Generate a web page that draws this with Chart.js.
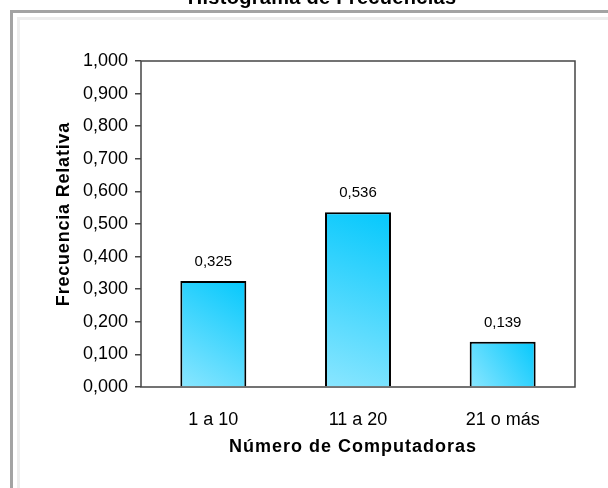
<!DOCTYPE html>
<html>
<head>
<meta charset="utf-8">
<script src="https://cdn.jsdelivr.net/npm/chart.js@4.4.0/dist/chart.umd.min.js"></script>
<style>
  html, body { margin: 0; padding: 0; background: #fff; overflow: hidden; }
  #wrap { position: relative; width: 608px; height: 488px; }
  .outer { position: absolute; left: 10px; top: 10px; width: 700px; height: 600px;
           border-left: 3px solid #a3a3a3; border-top: 3px solid #a3a3a3; }
  .inner { position: absolute; left: 17px; top: 17px; width: 700px; height: 600px;
           border-left: 3px solid #ededed; border-top: 3px solid #ededed; }
  canvas { position: absolute; left: 0; top: 0; }
</style>
</head>
<body>
<div id="wrap">
  <div class="outer"></div>
  <div class="inner"></div>
  <canvas id="chart" width="608" height="488"></canvas>
</div>
<script>
const chartTitle = "Histograma de Frecuencias";
const xTitle = "Número de Computadoras";
const yTitle = "Frecuencia Relativa";
const categories = ["1 a 10", "11 a 20", "21 o más"];
const relFreq = [0.325, 0.536, 0.139];
const yTicks = [0, 0.1, 0.2, 0.3, 0.4, 0.5, 0.6, 0.7, 0.8, 0.9, 1.0];

const FONT = "'Liberation Sans', Arial, sans-serif";
const BAR_PCT = 0.456;

const fmt = (v) => v.toFixed(3).replace(".", ",");

// each bar gets its own diagonal gradient, built from the scales
function barFill(c) {
  const chart = c.chart;
  if (!chart.chartArea || c.dataIndex === undefined) return "#33d0ff";
  const xs = chart.scales.x, ys = chart.scales.y;
  const cx = xs.getPixelForValue(c.dataIndex);
  const half = (xs.width / categories.length) * BAR_PCT / 2;
  const top = ys.getPixelForValue(relFreq[c.dataIndex]);
  const base = ys.getPixelForValue(0);
  const g = chart.ctx.createLinearGradient(cx - half, base, cx + half, top);
  g.addColorStop(0, "#8ae6ff");
  g.addColorStop(1, "#05c8fc");
  return g;
}

const decor = {
  id: "decor",
  beforeDatasetsDraw(chart) {
    const { ctx, chartArea: a } = chart;
    ctx.save();
    ctx.strokeStyle = "#454545";
    ctx.lineWidth = 1.5;
    ctx.strokeRect(a.left, a.top, a.right - a.left, a.bottom - a.top);
    ctx.restore();
  },
  afterDatasetsDraw(chart) {
    const ctx = chart.ctx;
    const meta = chart.getDatasetMeta(0);
    ctx.save();
    ctx.fillStyle = "#000";
    ctx.textAlign = "center";
    ctx.textBaseline = "middle";
    ctx.font = "15px " + FONT;
    meta.data.forEach((el, i) => {
      ctx.fillText(fmt(relFreq[i]), el.x, el.y - 19);
    });
    ctx.restore();
  },
  afterDraw(chart) {
    const ctx = chart.ctx;
    ctx.save();
    ctx.fillStyle = "#000";
    ctx.textAlign = "center";

    ctx.textBaseline = "alphabetic";
    ctx.font = "bold 20px " + FONT;
    ctx.letterSpacing = "0.3px";
    ctx.fillText(chartTitle, 322, 4);

    ctx.textBaseline = "middle";
    ctx.font = "bold 18px " + FONT;
    ctx.letterSpacing = "1px";
    ctx.fillText(xTitle, 353, 447);

    ctx.letterSpacing = "0.8px";
    ctx.translate(64, 214);
    ctx.rotate(-Math.PI / 2);
    ctx.fillText(yTitle, 0, 0);
    ctx.restore();
  }
};

new Chart(document.getElementById("chart"), {
  type: "bar",
  data: {
    labels: categories,
    datasets: [{
      label: yTitle,
      data: relFreq,
      backgroundColor: barFill,
      borderColor: "#000",
      borderWidth: 2,
      categoryPercentage: 1,
      barPercentage: BAR_PCT
    }]
  },
  options: {
    responsive: false,
    animation: false,
    devicePixelRatio: 1,
    layout: { padding: { top: 61, right: 33, left: 0, bottom: 0 } },
    plugins: {
      legend: { display: false },
      tooltip: { enabled: false }
    },
    scales: {
      x: {
        grid: { display: false, drawTicks: false },
        border: { display: false },
        ticks: { color: "#000", font: { family: FONT, size: 18 }, padding: 22, maxRotation: 0 },
        afterFit: (s) => { s.height = 101; }
      },
      y: {
        min: 0,
        max: 1,
        afterBuildTicks: (s) => { s.ticks = yTicks.map((v) => ({ value: v })); },
        grid: { drawOnChartArea: false, drawTicks: true, tickLength: 6, tickColor: "#454545", lineWidth: 1.5 },
        border: { display: false },
        ticks: { color: "#000", font: { family: FONT, size: 18 }, padding: 7, callback: (v) => fmt(v) },
        afterFit: (s) => { s.width = 141; }
      }
    }
  },
  plugins: [decor]
});
</script>
</body>
</html>
